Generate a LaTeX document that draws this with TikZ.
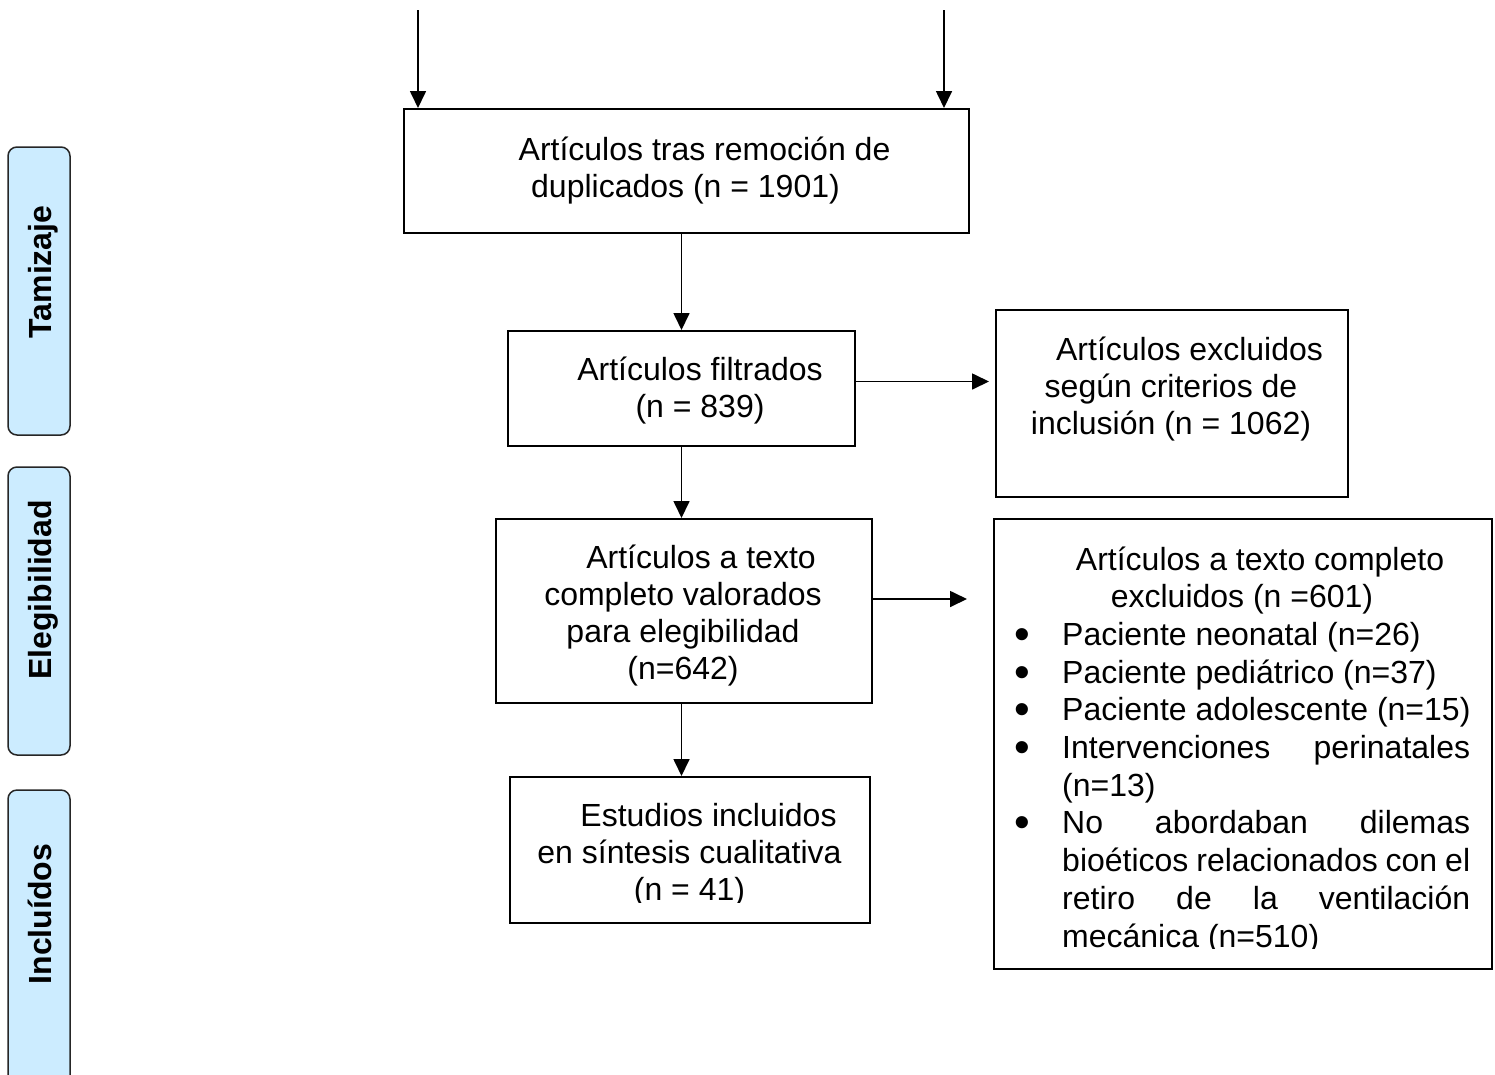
\documentclass[tikz,border=0pt]{standalone}
\usepackage{fontspec}
\setmainfont{Liberation Sans}
\usetikzlibrary{arrows.meta}
\definecolor{sidefill}{RGB}{204,236,255}
\newcommand{\resetsp}{\spaceskip=.2778em\xspaceskip=.2778em\relax}
\newcommand{\bul}{\makebox[48pt][l]{\smash{\raisebox{-4pt}{\scalebox{1.4}{\textbullet}}}}}
\begin{document}
\begin{tikzpicture}[x=1pt,y=-1pt,
  box/.style={draw=black, line width=2pt, inner sep=0pt, anchor=north west},
  side/.style={draw=black!85, fill=sidefill, line width=1.5pt, rounded corners=9pt},
  arr/.style={line width=1.7pt, -{Triangle[length=17pt,width=16pt]}},
  txt/.style={inner sep=0pt, anchor=base, text width=560pt, align=center, font=\fontsize{32}{37}\selectfont, execute at begin node=\resetsp},
  sidetxt/.style={inner sep=0pt, anchor=base, rotate=90, font=\bfseries\fontsize{32}{37}\selectfont}]
\clip (0,0) rectangle (1495,1074);
\fill[white] (0,0) rectangle (1495,1074);
% side labels
\draw[side] (8,147) rectangle (70,435);
\draw[side] (8,467) rectangle (70,755);
\draw[side] (8,790) rectangle (70,1110);
\node[sidetxt] (l1) at (51,272) {Tamizaje};
\node[sidetxt] (l2) at (51,590) {Elegibilidad};
\node[sidetxt] (l3) at (51,914) {Incluídos};
% boxes
\node[box, minimum width=565pt, minimum height=124pt] (b1) at (403,108) {};
\node[box, minimum width=347pt, minimum height=115pt] (b2) at (507,330) {};
\node[box, minimum width=352pt, minimum height=187pt] (b3) at (995,309) {};
\node[box, minimum width=376pt, minimum height=184pt] (b4) at (495,518) {};
\node[box, minimum width=498pt, minimum height=450pt] (b5) at (993,518) {};
\node[box, minimum width=360pt, minimum height=146pt] (b6) at (509,776) {};
% texts
\node[txt] (t1) at (685.5,160) {\hspace*{38pt}Artículos tras remoción de\\duplicados (n = 1901)};
\node[txt] (t2) at (700,380) {Artículos filtrados\\(n = 839)};
\node[txt] (t3) at (1171,360) {\hspace*{37pt}Artículos excluidos\\según criterios de\\inclusión (n = 1062)};
\node[txt] (t4) at (683,568) {\hspace*{36pt}Artículos a texto\\completo valorados\\para elegibilidad\\(n=642)};
\node[txt, font=\fontsize{32}{37.7}\selectfont] (t5) at (1242,570) {\hspace*{36pt}Artículos a texto completo\\excluidos (n =601)};
\begin{scope}
\clip (995,600) rectangle (1489,948.5);
\node[inner sep=0pt, anchor=base west, text width=460pt, align=left, font=\fontsize{32}{37.7}\selectfont, execute at begin node=\resetsp] (t5l) at (1014,645.4) {%
\bul Paciente neonatal (n=26)\\
\bul Paciente pediátrico (n=37)\\
\bul Paciente adolescente (n=15)\\
\bul\hbox to 408pt{Intervenciones\hfill perinatales}\\
\hspace*{48pt}(n=13)\\
\bul\hbox to 408pt{No\hfill abordaban\hfill dilemas}\\
\hspace*{48pt}\hbox to 408pt{bioéticos\hfill relacionados\hfill con\hfill el}\\
\hspace*{48pt}\hbox to 408pt{retiro\hfill de\hfill la\hfill ventilación}\\
\hspace*{48pt}mecánica (n=510)};
\end{scope}
\begin{scope}
\clip (511,778) rectangle (867,902.5);
\node[txt] (t6) at (689.5,826) {\hspace*{38pt}Estudios incluidos\\en síntesis cualitativa\\(n = 41)};
\end{scope}
% connectors
\coordinate (a1) at (418,10);
\coordinate (a2) at (944,10);
\draw[arr] (a1) -- (a1 |- b1.north);
\draw[arr] (a2) -- (a2 |- b1.north);
\draw[arr] (b2.north |- b1.south) -- (b2.north);
\draw[arr] (b2.south) -- (b2.south |- b4.north);
\draw[arr] (b4.south -| b2.south) -- (b6.north -| b2.south);
\draw[arr, shorten >=6pt] ([yshift=7pt]b2.east) -- ([yshift=7pt]b2.east -| b3.west);
\draw[arr, shorten >=26pt] ([yshift=12pt]b4.east) -- ([yshift=12pt]b4.east -| b5.west);
\end{tikzpicture}
\end{document}
